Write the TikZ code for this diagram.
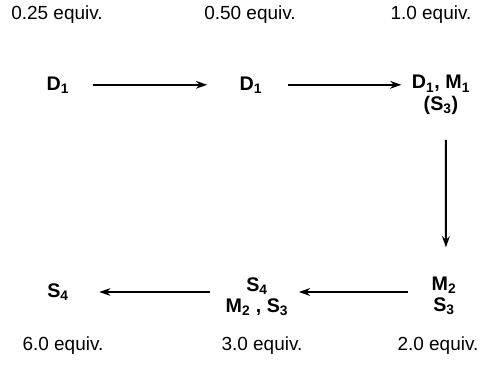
\documentclass[tikz,border=0pt]{standalone}
\usepackage{fontspec}
\setmainfont{Liberation Sans}
\usepackage{tikz}
\usetikzlibrary{arrows.meta,positioning}
\newcommand{\sub}[1]{\textsubscript{#1}}

\begin{document}
\begin{tikzpicture}[
  species/.style={font=\fontsize{14}{15}\selectfont\bfseries, align=center, inner sep=1pt},
  equiv/.style={font=\fontsize{13.5}{15}\selectfont},
  arrow/.style={-{Stealth[length=8pt,width=5.5pt]}, line width=1.4pt},
  every node/.style={align=center}
]
\useasboundingbox (0,0) rectangle (12,-9.175);

%% Equivalents (top)
\node[equiv] (e1) at (1.425,-0.37) {0.25 equiv.};
\node[equiv] (e2) at (6.25,-0.37) {0.50 equiv.};
\node[equiv] (e3) at (10.775,-0.37) {1.0 equiv.};

%% Top row
\node[species] (d1a) at (1.45,-2.12) {D\sub{1}};
\node[species] (d1b) at (6.275,-2.12) {D\sub{1}};
\node[species] (dm)  at (11.025,-2.37) {D\sub{1}, M\sub{1}\\(S\sub{3})};

%% Bottom row
\node[species] (m2s3) at (11.1,-7.4) {M\sub{2}\\S\sub{3}};
\node[species] (mix)  at (6.425,-7.42) {S\sub{4}\\M\sub{2} , S\sub{3}};
\node[species] (s4)   at (1.45,-7.3) {S\sub{4}};

%% Equivalents (bottom)
\node[equiv] (e6) at (1.575,-8.63) {6.0 equiv.};
\node[equiv] (e5) at (6.55,-8.63) {3.0 equiv.};
\node[equiv] (e4) at (10.95,-8.63) {2.0 equiv.};

%% Arrows
\draw[arrow, shorten <=0.55cm, shorten >=0.77cm] (d1a) -- (d1b);
\draw[arrow, shorten <=0.6cm, shorten >=0.22cm] (d1b) -- (d1b -| dm.west);
\draw[arrow, shorten <=0.6cm, shorten >=0.7cm] ([xshift=0.12cm]dm.south) -- ([xshift=0.05cm]m2s3.north);
\draw[arrow, shorten <=0.54cm, shorten >=0.22cm] (m2s3.west |- s4) -- (mix.east |- s4);
\draw[arrow, shorten <=0.34cm, shorten >=0.72cm] (mix.west |- s4) -- (s4);

\end{tikzpicture}
\end{document}
